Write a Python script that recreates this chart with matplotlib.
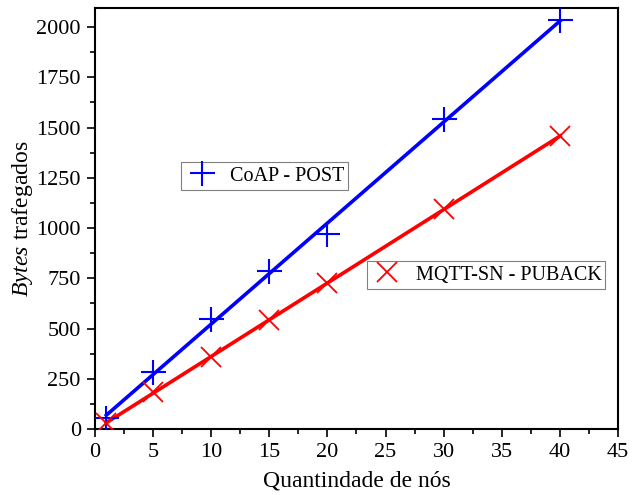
import numpy as np
import matplotlib.pyplot as plt
from matplotlib.lines import Line2D
from matplotlib.ticker import MultipleLocator

plt.rcParams['font.family'] = 'Liberation Serif'
plt.rcParams['mathtext.fontset'] = 'custom'
plt.rcParams['mathtext.rm'] = 'Liberation Serif'
plt.rcParams['mathtext.it'] = 'Liberation Serif:italic'

nos = [1, 5, 10, 15, 20, 30, 40]
coap_post = [55, 284, 547, 786, 970, 1542, 2035]
mqtt_puback = [30, 184, 358, 542, 726, 1094, 1458]

fig = plt.figure(figsize=(6.4, 4.95), dpi=100)
ax = fig.add_axes([0.148, 0.133, 0.818, 0.851])

xs = np.array([min(nos), max(nos)])
# linear fits
pb = np.polyfit(nos, coap_post, 1)
pr = np.polyfit(nos, mqtt_puback, 1)
ax.plot(xs, np.polyval(pb, xs), color='blue', lw=2.6, zorder=2)
ax.plot(xs, np.polyval(pr, xs), color='red', lw=2.6, zorder=2)
ax.plot(nos, coap_post, ls='none', marker='+', ms=18, mew=1.5, color='blue', zorder=3)
ax.plot(nos, mqtt_puback, ls='none', marker='x', ms=15, mew=1.3, color='red', zorder=3)

ax.set_xlim(0, 45)
ax.set_ylim(0, 2095)
ax.xaxis.set_major_locator(MultipleLocator(5))
ax.xaxis.set_minor_locator(MultipleLocator(2.5))
ax.yaxis.set_major_locator(MultipleLocator(250))
ax.yaxis.set_minor_locator(MultipleLocator(125))
ax.tick_params(which='major', direction='out', length=6, width=1.2, labelsize=16, pad=4)
ax.tick_params(which='minor', direction='out', length=3.5, width=1.2)
for s in ax.spines.values():
    s.set_linewidth(1.5)

ax.set_xlabel('Quantindade de nós', fontsize=17, labelpad=6)
ax.set_ylabel(r'$\it{Bytes}$ trafegados', fontsize=17, labelpad=1)

h1 = Line2D([], [], ls='none', marker='+', ms=18, mew=1.5, color='blue')
h2 = Line2D([], [], ls='none', marker='x', ms=15, mew=1.3, color='red')
leg1 = ax.legend([h1], ['CoAP - POST'], loc='center', bbox_to_anchor=(0.325, 0.601),
                 fontsize=14.5, fancybox=False, edgecolor='grey', framealpha=1,
                 borderpad=0.2, handletextpad=0.6, handlelength=1.6)
leg1.get_frame().set_linewidth(0.8)
ax.add_artist(leg1)
leg2 = ax.legend([h2], ['MQTT-SN - PUBACK'], loc='center', bbox_to_anchor=(0.748, 0.366),
                 fontsize=14.5, fancybox=False, edgecolor='grey', framealpha=1,
                 borderpad=0.2, handletextpad=0.6, handlelength=1.6)
leg2.get_frame().set_linewidth(0.8)

fig.savefig('out.png', dpi=100)
